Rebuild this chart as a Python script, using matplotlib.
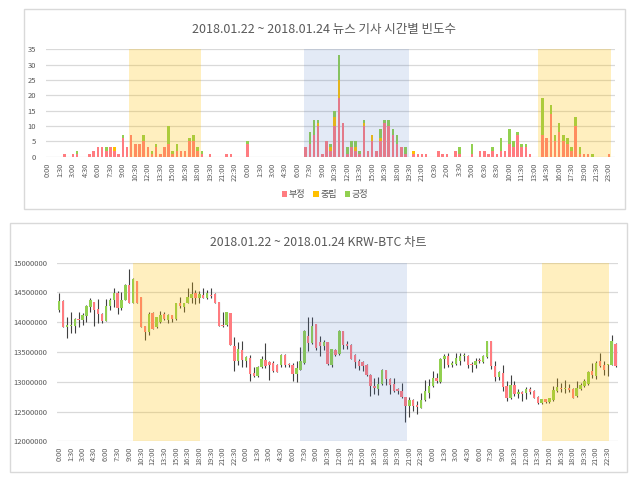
import matplotlib
matplotlib.use('Agg')
import matplotlib.pyplot as plt
from matplotlib.patches import Rectangle
import numpy as np

plt.rcParams['font.family'] = ['Noto Sans CJK KR', 'DejaVu Sans']

# ---------------- data: news article counts per 30-min slot ----------------
title_top = "2018.01.22 ~ 2018.01.24 뉴스 기사 시간별 빈도수"
series_names = ["부정", "중립", "긍정"]
neg = [
    0,0,0,0,1,0,1,1,0,0,
    1,2,3,3,2,3,2,1,6,3,
    7,4,4,5,3,1,3,1,3,4,
    1,2,2,2,5,5,2,1,0,1,
    0,0,0,1,1,0,0,0,4,0,
    0,0,0,0,0,0,0,0,0,0,
    0,0,3,4,7,10,1,5,2,10,
    19,11,1,3,2,1,10,2,5,2,
    5,11,10,7,4,3,1,0,1,1,
    1,1,0,0,2,1,1,0,2,1,
    0,0,1,0,2,2,1,2,1,2,
    2,4,3,7,3,3,1,0,0,7,
    6,14,5,8,5,4,2,10,1,1,
    1,0,0,0,0,1,0]
neu = [
    0,0,0,0,0,0,0,0,0,0,
    0,0,0,0,0,0,1,0,0,0,
    0,0,0,0,0,0,0,0,0,0,
    0,0,0,0,0,0,0,0,0,0,
    0,0,0,0,0,0,0,0,0,0,
    0,0,0,0,0,0,0,0,0,0,
    0,0,0,0,0,1,0,0,1,3,
    6,0,0,0,1,0,1,0,2,0,
    1,0,0,0,0,0,0,0,1,0,
    0,0,0,0,0,0,0,0,0,0,
    0,0,0,0,0,0,0,0,0,0,
    0,0,0,0,0,0,0,0,0,0,
    0,0,0,0,0,0,0,0,0,0,
    0,0,0,0,0,0,0]
pos = [
    0,0,0,0,0,0,0,1,0,0,
    0,0,0,0,1,0,0,0,1,0,
    0,0,0,2,0,1,1,0,0,6,
    1,2,0,0,1,2,1,1,0,0,
    0,0,0,0,0,0,0,0,1,0,
    0,0,0,0,0,0,0,0,0,0,
    0,0,0,4,5,1,0,0,1,2,
    8,0,2,2,2,1,1,0,0,0,
    3,1,2,2,3,0,2,0,0,0,
    0,0,0,0,0,0,0,0,0,2,
    0,0,3,0,0,0,0,1,0,4,
    0,5,2,1,1,1,0,0,0,12,
    0,3,2,3,2,2,1,3,2,0,
    0,1,0,0,0,0,0]
top_tick_labels = [
    "0:00","1:30","3:00","4:30","6:00","7:30","9:00","10:30","12:00","13:30",
    "15:00","16:30","18:00","19:30","21:00","22:30",
    "0:00","1:30","3:00","4:30","6:00","7:30","9:00","10:30","12:00","13:30",
    "15:00","16:30","18:00","19:30","21:00",
    "0:30","2:00","3:30","5:00","6:30","8:30","10:00","11:30","13:00","14:30",
    "16:00","17:30","19:00","21:30","23:00"]

# ---------------- data: KRW-BTC 30-min candles (thousand KRW) ----------------
title_bottom = "2018.01.22 ~ 2018.01.24 KRW-BTC 차트"
open_k = [
    14206,14361,13928,13939,13939,14056,14039,14106,14261,14333,
    14217,14133,14022,14278,14378,14489,14233,14378,14633,14317,
    14689,14428,13944,13844,14156,13928,14011,14133,14039,14122,
    14050,14317,14261,14317,14400,14483,14400,14456,14411,14456,
    14467,14344,13956,13956,14161,13594,13344,13539,13356,13400,
    13144,13094,13244,13372,13333,13317,13289,13278,13456,13300,
    13289,13133,13206,13317,13761,13650,13972,13667,13594,13667,
    13289,13539,13467,13861,13633,13622,13456,13356,13333,13289,
    13122,12928,12872,12956,13206,13039,12956,12872,12844,12744,
    12594,12689,12611,12567,12689,12817,12928,13067,13000,13389,
    13428,13278,13300,13356,13428,13428,13306,13278,13372,13333,
    13411,13678,13261,13078,13150,12928,12722,12939,12789,12833,
    12817,12872,12844,12744,12650,12706,12661,12689,12844,12900,
    12872,12889,12872,12761,12872,12928,12967,13178,13094,13356,
    13278,13289,13289,13633]
high_k = [
    14483,14380,14094,14178,14078,14178,14150,14289,14400,14344,
    14389,14150,14389,14400,14583,14522,14511,14640,14900,14744,
    14700,14428,13944,14167,14167,14094,14189,14178,14133,14122,
    14317,14428,14328,14567,14678,14539,14522,14567,14539,14567,
    14483,14344,14178,14178,14161,13744,13667,13678,13428,13456,
    13244,13261,13428,13650,13344,13344,13300,13467,13467,13317,
    13317,13356,13578,13872,14094,14094,13972,13761,13706,13667,
    13550,13550,13872,13861,13678,13633,13467,13389,13356,13300,
    13133,13056,13078,13222,13206,13056,13056,12900,12983,12744,
    12744,12706,12678,12817,13022,13039,13178,13150,13400,13467,
    13483,13344,13483,13483,13478,13456,13333,13400,13400,13456,
    13689,13678,13356,13178,13278,13011,13111,13011,12872,12844,
    12911,12911,12856,12761,12717,12717,12733,12928,13067,12983,
    13022,12956,12889,13011,12983,13039,13178,13317,13356,13483,
    13356,13300,13778,13650]
low_k = [
    14178,13920,13733,13817,13817,13928,13956,14011,14178,13944,
    13983,13983,14022,14206,14261,14133,14206,14370,14317,14317,
    14317,13928,13706,13789,13889,13900,13983,14039,13983,14011,
    14039,14233,14178,14317,14317,14300,14317,14400,14383,14400,
    14317,13944,13928,13944,13611,13178,13289,13244,13244,13011,
    13078,13078,13233,13233,13022,13167,13161,13244,13244,13244,
    13011,12994,13206,13300,13511,13633,13539,13428,13539,13289,
    13244,13428,13456,13556,13556,13389,13233,13206,13178,13094,
    12761,12800,12772,12944,12944,12800,12833,12789,12733,12317,
    12411,12511,12456,12556,12678,12722,12911,12983,12983,13233,
    13244,13244,13289,13289,13344,13233,13167,13233,13317,13317,
    13400,13217,13011,13022,12844,12678,12706,12761,12733,12678,
    12706,12789,12722,12633,12622,12650,12644,12678,12833,12833,
    12817,12833,12722,12744,12856,12911,12944,13067,13039,13244,
    13122,13094,13278,13244]
close_k = [
    14361,13928,13956,13956,14050,14039,14122,14272,14372,14206,
    14133,14022,14278,14378,14483,14233,14367,14633,14317,14733,
    14317,13928,13844,14133,13889,14083,14122,14050,14122,14050,
    14317,14272,14328,14422,14472,14400,14467,14411,14483,14439,
    14317,13944,13944,14167,13611,13356,13550,13372,13417,13133,
    13089,13244,13383,13261,13289,13178,13167,13456,13278,13278,
    13133,13233,13356,13856,13650,13944,13567,13594,13667,13300,
    13550,13456,13861,13611,13594,13389,13333,13261,13261,13111,
    12928,12889,12967,13206,13039,12944,12844,12844,12744,12594,
    12689,12594,12578,12689,12844,12928,13067,13011,13389,13428,
    13289,13317,13400,13428,13444,13289,13289,13356,13344,13428,
    13678,13261,13078,13167,12911,12722,12939,12789,12833,12800,
    12872,12833,12733,12650,12706,12661,12722,12856,12911,12872,
    12900,12856,12733,12889,12939,13011,13167,13111,13317,13261,
    13206,13300,13689,13261]
bottom_tick_labels = [
    "0:00","1:30","3:00","4:30","6:00","7:30","9:00","10:30","12:00","13:30",
    "15:00","16:30","18:00","19:30","21:00","22:30"] * 3

# ---------------- styling ----------------
RED = '#FF7C80'
YEL = '#FFC000'
GRN = '#92D050'
GRID = '#D9D9D9'
TXT = '#595959'

W, H = 640, 483
fig = plt.figure(figsize=(6.4, 4.83), dpi=100)


def fx(px):
    return px / W


def fy(py):
    return 1 - py / H


for (x0, y0, x1, y1) in [(24, 9, 625, 209), (10, 223, 627, 472)]:
    fig.patches.append(Rectangle((fx(x0), fy(y1)), fx(x1) - fx(x0), fy(y0) - fy(y1),
                                 transform=fig.transFigure, facecolor='white',
                                 edgecolor=GRID, lw=1.0, zorder=-10))


def style_axes(ax):
    for s in ax.spines.values():
        s.set_visible(False)
    ax.tick_params(length=0, colors=TXT)
    ax.grid(axis='y', color=GRID, lw=0.9, zorder=1)
    ax.set_axisbelow(True)
    ax.patch.set_alpha(0)
    ax.set_zorder(5)


# ---------- top chart ----------
ax1 = fig.add_axes([fx(46), fy(156.7), fx(615.2) - fx(46), fy(49.3) - fy(156.7)])
style_axes(ax1)
x = np.arange(len(neg))
neg_a, neu_a, pos_a = np.array(neg), np.array(neu), np.array(pos)
b1 = ax1.bar(x, neg_a, width=0.62, color=RED, zorder=2, lw=0)
b2 = ax1.bar(x, neu_a, width=0.62, bottom=neg_a, color=YEL, zorder=2, lw=0)
b3 = ax1.bar(x, pos_a, width=0.62, bottom=neg_a + neu_a, color=GRN, zorder=2, lw=0)
for (a, b, c, al) in [(19.5, 36.7, YEL, 0.25), (61.6, 86.9, '#4472C4', 0.15), (117.9, 135.5, YEL, 0.25)]:
    ax1.axvspan(a, b, color=c, alpha=al, lw=0, zorder=3)
ax1.set_xlim(-0.5, len(neg) - 0.5)
ax1.set_ylim(0, 35)
ax1.set_yticks(range(0, 36, 5))
ax1.tick_params(axis='y', labelsize=5.5, pad=7)
ax1.set_xticks(np.arange(0, 3 * len(top_tick_labels), 3))
ax1.set_xticklabels(top_tick_labels, rotation=90, fontsize=5.3)
ax1.tick_params(axis='x', pad=4)

fig.text(fx(324), fy(29.5), title_top, ha='center', va='center', fontsize=9, color=TXT)
fig.legend([b1, b2, b3], series_names, loc='center', bbox_to_anchor=(fx(325), fy(195)),
           ncol=3, frameon=False, fontsize=6.5, handlelength=0.6, handleheight=0.6,
           handletextpad=0.15, columnspacing=0.9, labelcolor=TXT)

# ---------- bottom chart ----------
ax2 = fig.add_axes([fx(57.3), fy(441.3), fx(617.5) - fx(57.3), fy(262.7) - fy(441.3)])
style_axes(ax2)
o = np.array(open_k) * 1000
h = np.array(high_k) * 1000
l = np.array(low_k) * 1000
c = np.array(close_k) * 1000
xc = np.arange(len(o))
ax2.vlines(xc, l, h, color='#404040', lw=0.8, zorder=2)
colors = [GRN if ci >= oi else RED for oi, ci in zip(o, c)]
body_h = np.maximum(np.abs(c - o), 12000)
ax2.bar(xc, body_h, bottom=np.minimum(o, c), width=0.62, color=colors, lw=0, zorder=2.5)
for (a, b, cc, al) in [(19.0, 36.2, YEL, 0.25), (62.0, 89.3, '#4472C4', 0.15), (124.2, 141.3, YEL, 0.25)]:
    ax2.axvspan(a, b, color=cc, alpha=al, lw=0, zorder=3)
ax2.set_xlim(-0.5, len(o) - 0.5)
ax2.set_ylim(12000000, 15000000)
ax2.set_yticks(np.arange(12000000, 15000001, 500000))
ax2.set_yticklabels([str(v) for v in np.arange(12000000, 15000001, 500000)])
ax2.tick_params(axis='y', labelsize=5.5, pad=7)
ax2.set_xticks(np.arange(0, 3 * len(bottom_tick_labels), 3))
ax2.set_xticklabels(bottom_tick_labels, rotation=90, fontsize=5.3)
ax2.tick_params(axis='x', pad=4)

fig.text(fx(318), fy(242.7), title_bottom, ha='center', va='center', fontsize=8.8, color=TXT)

fig.savefig('out.png', dpi=100)
